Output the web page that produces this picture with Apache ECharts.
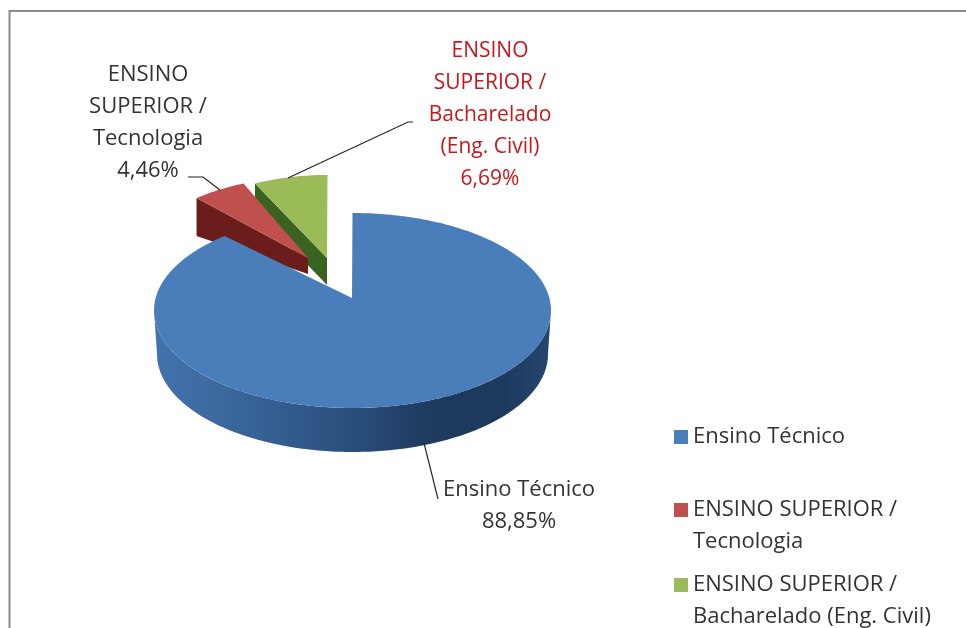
<!DOCTYPE html>
<html><head><meta charset="utf-8">
<style>html,body{margin:0;padding:0;background:#fff}#c{width:966px;height:628px}</style>
<script src="https://cdn.jsdelivr.net/npm/echarts@6/dist/echarts.min.js"></script>
</head><body><div id="c"></div>
<script>
const categories = ['Ensino Técnico', 'ENSINO SUPERIOR / Tecnologia', 'ENSINO SUPERIOR / Bacharelado (Eng. Civil)'];
const legendNames = ['Ensino Técnico', 'ENSINO SUPERIOR /\nTecnologia', 'ENSINO SUPERIOR /\nBacharelado (Eng. Civil)'];
const labelNames = ['Ensino Técnico', 'ENSINO\nSUPERIOR /\nTecnologia', 'ENSINO\nSUPERIOR /\nBacharelado\n(Eng. Civil)'];
const percents = [88.85, 4.46, 6.69];
const topColors = ['#4a7ebb', '#c0504d', '#9bbb59'];

const FONT = '"Open Sans", Lato, sans-serif';
const total = percents.reduce((a, b) => a + b, 0);
const topE = {cx: 352.5, cy: 310.5, rx: 198.5, ry: 97.5};
const botE = {cx: 352.5, cy: 354, rx: 195.5, ry: 98};
const apex = [352, 298];
// layout of each slice: rim offset, rim narrowing, tip, side colour, side depth
const layout = [
  {dx: 0, dy: 0, sx: 1, tip: apex, z: 3, labelSize: 22,
   labelXY: [519, 506], labelColor: '#333', leader: [[424, 443], [438, 499]]},
  {dx: -28, dy: -38, sx: 1, tip: [308, 258], side: '#6a1d1b', dRim: 38, dTip: 16, z: 2, labelSize: 22,
   labelXY: [148, 123], labelColor: '#333', leader: [[188, 177], [203, 177], [220, 190]]},
  {dx: -25, dy: -38, sx: 0.895, tip: [327, 258], side: '#3a6322', dRim: 27, dTip: 27, z: 1, labelSize: 21,
   labelXY: [490, 115], labelColor: '#c8171c', leader: [[288, 178], [408, 122], [413, 122]]}
];

function startDeg(i) {
  let s = 0;
  for (let k = 0; k < i; k++) s += percents[k] / total * 360;
  return s;
}
function pt(e, deg, dx, dy, sx) {
  const a = deg * Math.PI / 180, k = sx === undefined ? 1 : sx;
  return [e.cx + e.rx * Math.sin(a) * k + (dx || 0), e.cy - e.ry * Math.cos(a) + (dy || 0)];
}
function arc(e, a0, a1, dx, dy, sx) {
  const n = Math.max(2, Math.ceil(Math.abs(a1 - a0)));
  const out = [];
  for (let i = 0; i <= n; i++) out.push(pt(e, a0 + (a1 - a0) * i / n, dx, dy, sx));
  return out;
}
function labelText(i, value) {
  return labelNames[i] + '\n' + value.toFixed(2).replace('.', ',') + '%';
}
function makeRender(i) {
  return function (params, api) {
    const value = api.value(0);
    const a0 = startDeg(i), a1 = a0 + value / total * 360;
    const L = layout[i];
    const kids = [];
    if (i === 0) {
      const front = arc(topE, 90, 270).concat(arc(botE, 270, 90));
      kids.push({type: 'polygon', shape: {points: front}, style: {
        fill: new echarts.graphic.LinearGradient(0, 0, 1, 0, [
          {offset: 0, color: '#4272ad'}, {offset: 0.2, color: '#3a679b'},
          {offset: 0.5, color: '#2a4e7c'}, {offset: 0.7, color: '#1e3a5e'},
          {offset: 0.88, color: '#1d3a5e'}, {offset: 1, color: '#25466f'}
        ])
      }});
    } else {
      const rim = pt(topE, a0, L.dx, L.dy, L.sx);
      kids.push({type: 'polygon', shape: {points: [
        rim, L.tip, [L.tip[0], L.tip[1] + L.dTip], [rim[0], rim[1] + L.dRim]
      ]}, style: {fill: L.side}});
    }
    kids.push({type: 'polygon', shape: {points: [L.tip].concat(arc(topE, a0, a1, L.dx, L.dy, L.sx))},
      style: {fill: topColors[i]}});
    kids.push({type: 'polyline', shape: {points: L.leader}, style: {stroke: '#222', lineWidth: 1.2, fill: null}});
    kids.push({type: 'text', style: {
      x: L.labelXY[0], y: L.labelXY[1], text: labelText(i, value), fill: L.labelColor,
      font: L.labelSize + 'px ' + FONT, align: 'center', verticalAlign: 'middle', lineHeight: 32
    }});
    return {type: 'group', children: kids};
  };
}
const legendText = {fontFamily: FONT, fontSize: 22, color: '#333', lineHeight: 32};
const twoLineIcon = 'path://M0 9H14V23H0Z M0 0H0.01 M0 64H0.01';
const chart = echarts.init(document.getElementById('c'), null, {renderer: 'canvas'});
chart.setOption({
  animation: false,
  backgroundColor: '#fff',
  graphic: [{type: 'rect', shape: {x: 9.5, y: 11, width: 1000, height: 800}, z: 0, silent: true,
    style: {fill: 'transparent', stroke: '#8a8a8a', lineWidth: 2}}],
  legend: [
    {data: [legendNames[0]], left: 674, top: 421, orient: 'vertical', selectedMode: false, itemWidth: 14, itemHeight: 14, itemGap: 0, padding: 0, textStyle: legendText, icon: 'rect'},
    {data: [legendNames[1]], left: 674, top: 494, orient: 'vertical', selectedMode: false, itemWidth: 14, itemHeight: 64, itemGap: 0, padding: 0, textStyle: legendText, icon: twoLineIcon},
    {data: [legendNames[2]], left: 674, top: 569, orient: 'vertical', selectedMode: false, itemWidth: 14, itemHeight: 64, itemGap: 0, padding: 0, textStyle: legendText, icon: twoLineIcon}
  ],
  series: percents.map((v, i) => ({
    type: 'custom', name: legendNames[i], coordinateSystem: 'none', silent: true,
    z: layout[i].z, itemStyle: {color: topColors[i]},
    renderItem: makeRender(i), data: [[v]]
  }))
});
</script></body></html>
